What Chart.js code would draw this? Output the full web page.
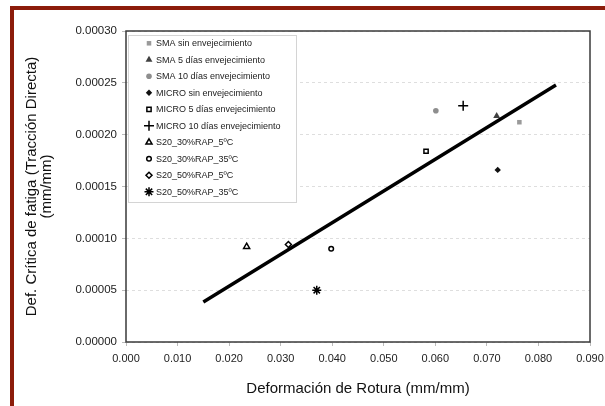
<!DOCTYPE html>
<html>
<head>
<meta charset="utf-8">
<script src="https://cdn.jsdelivr.net/npm/chart.js@4"></script>
<style>
  body { margin: 0; background: #fff; }
  #wrap { position: relative; width: 605px; height: 406px; overflow: hidden; }
  #frame { position: absolute; left: 10px; top: 6px; width: 700px; height: 500px;
           border-left: 4px solid #8c1c0a; border-top: 4px solid #8c1c0a; }
  #myChart { position: absolute; left: 0; top: 0; }
</style>
</head>
<body>
<div id="wrap">
  <div id="frame"></div>
  <canvas id="myChart" width="605" height="406"></canvas>
</div>
<script>
// series names (one point each)
const seriesLabels = [
  'SMA sin envejecimiento',
  'SMA 5 días envejecimiento',
  'SMA 10 días envejecimiento',
  'MICRO sin envejecimiento',
  'MICRO 5 días envejecimiento',
  'MICRO 10 días envejecimiento',
  'S20_30%RAP_5ºC',
  'S20_30%RAP_35ºC',
  'S20_50%RAP_5ºC',
  'S20_50%RAP_35ºC'
];
const roturaValues = [0.0763, 0.0719, 0.0601, 0.0721, 0.0582, 0.0654, 0.0234, 0.0398, 0.0315, 0.0370];
const fatigaValues = [0.000212, 0.000218, 0.000223, 0.000166, 0.000184, 0.000228, 0.000092, 0.000090, 0.000094, 0.000050];

// trend line ends
const trendX = [0.0150, 0.0834];
const trendY = [0.0000386, 0.000248];

const xTicks = [0, 0.01, 0.02, 0.03, 0.04, 0.05, 0.06, 0.07, 0.08, 0.09];
const yTicks = [0, 0.00005, 0.0001, 0.00015, 0.0002, 0.00025, 0.0003];

const markerStyles = [
  { pointStyle: 'rect', fill: '#9a9a9a', stroke: '#9a9a9a', r: 3.2, w: 0 },
  { pointStyle: 'triangle', fill: '#404040', stroke: '#404040', r: 4, w: 0 },
  { pointStyle: 'circle', fill: '#8e8e8e', stroke: '#8e8e8e', r: 2.8, w: 0 },
  { pointStyle: 'rectRot', fill: '#111', stroke: '#111', r: 3.2, w: 0 },
  { pointStyle: 'rect', fill: '#fff', stroke: '#000', r: 3, w: 1.5 },
  { pointStyle: 'cross', fill: '#000', stroke: '#000', r: 5, w: 1.5 },
  { pointStyle: 'triangle', fill: '#fff', stroke: '#000', r: 3.5, w: 1.5 },
  { pointStyle: 'circle', fill: '#fff', stroke: '#000', r: 2.3, w: 1.5 },
  { pointStyle: 'rectRot', fill: '#fff', stroke: '#000', r: 3, w: 1.5 },
  { pointStyle: 'star', fill: '#000', stroke: '#000', r: 4.5, w: 1.5 }
];

const fontFam = 'Arial, "Liberation Sans", sans-serif';

let datasets = seriesLabels.map((name, i) => {
  const m = markerStyles[i];
  return {
    type: 'scatter',
    label: name,
    data: [{ x: roturaValues[i], y: fatigaValues[i] }],
    pointStyle: m.pointStyle,
    backgroundColor: m.fill,
    borderColor: m.stroke,
    pointRadius: m.r,
    pointBorderWidth: m.w,
    showLine: false
  };
});

datasets.push({
  type: 'line',
  label: 'trend',
  data: trendX.map((x, i) => ({ x: x, y: trendY[i] })),
  borderColor: '#000',
  borderWidth: 3.5,
  pointRadius: 0,
  fill: false
});

// box round the plot area
const plotBorder = {
  id: 'plotBorder',
  afterDatasetsDraw(chart) {
    const a = chart.chartArea;
    const ctx = chart.ctx;
    ctx.save();
    ctx.strokeStyle = '#3a3a3a';
    ctx.lineWidth = 1.5;
    ctx.strokeRect(a.left, a.top, a.right - a.left, a.bottom - a.top);
    ctx.restore();
  }
};

// legend sits inside the plot, top left
const legendBox = {
  id: 'legendBox',
  afterDraw(chart) {
    const ctx = chart.ctx;
    ctx.save();
    ctx.fillStyle = '#fff';
    ctx.fillRect(128, 35, 168, 167);
    ctx.strokeStyle = '#d4d4d4';
    ctx.lineWidth = 1;
    ctx.strokeRect(128.5, 35.5, 168, 167);
    ctx.font = '9px ' + fontFam;
    ctx.textBaseline = 'middle';
    chart.data.datasets.forEach((ds, i) => {
      if (ds.type !== 'scatter') return;
      const y = 43.3 + i * 16.5;
      ctx.fillStyle = ds.backgroundColor;
      ctx.strokeStyle = ds.borderColor;
      ctx.lineWidth = ds.pointBorderWidth;
      Chart.helpers.drawPoint(ctx, {
        pointStyle: ds.pointStyle,
        radius: ds.pointRadius,
        borderWidth: ds.pointBorderWidth,
        rotation: 0
      }, 149, y);
      ctx.fillStyle = '#222';
      ctx.fillText(ds.label, 156, y + 0.5);
    });
    ctx.restore();
  }
};

const ctx1 = document.getElementById('myChart');
myChart = new Chart(ctx1, {
  data: { datasets: datasets },
  plugins: [plotBorder, legendBox],
  options: {
    responsive: false,
    animation: false,
    layout: { padding: { top: 31, right: 15, left: 0, bottom: 0 } },
    plugins: {
      legend: { display: false },
      tooltip: { enabled: false }
    },
    scales: {
      x: {
        type: 'linear',
        min: 0,
        max: 0.09,
        afterFit: (s) => { s.height = 64; s.paddingLeft = 0; s.paddingRight = 0; },
        afterBuildTicks: (s) => { s.ticks = xTicks.map(v => ({ value: v })); },
        ticks: {
          callback: (v) => v.toFixed(3),
          color: '#222',
          font: { family: fontFam, size: 11 },
          padding: 6,
          maxRotation: 0
        },
        grid: { display: true, drawOnChartArea: false, drawTicks: true, tickLength: 4, color: '#bbb' },
        border: { display: false },
        title: {
          display: true,
          text: 'Deformación de Rotura (mm/mm)',
          color: '#111',
          font: { family: fontFam, size: 15 },
          padding: { top: 0, bottom: 8 }
        }
      },
      y: {
        type: 'linear',
        min: 0,
        max: 0.0003,
        afterFit: (s) => { s.width = 126; s.paddingTop = 0; s.paddingBottom = 0; },
        afterBuildTicks: (s) => { s.ticks = yTicks.map(v => ({ value: v })); },
        ticks: {
          callback: (v) => v.toFixed(5),
          color: '#222',
          font: { family: fontFam, size: 11.5 },
          padding: 5
        },
        grid: {
          color: '#dedede',
          tickColor: '#bbb',
          tickLength: 4
        },
        border: { display: false, dash: [3, 3] },
        title: {
          display: true,
          text: ['Def. Crítica de fatiga (Tracción Directa)', '(mm/mm)'],
          color: '#111',
          font: { family: fontFam, size: 15, lineHeight: 1 },
          padding: { top: 24.5, bottom: 0 }
        }
      }
    }
  }
});
</script>
</body>
</html>
